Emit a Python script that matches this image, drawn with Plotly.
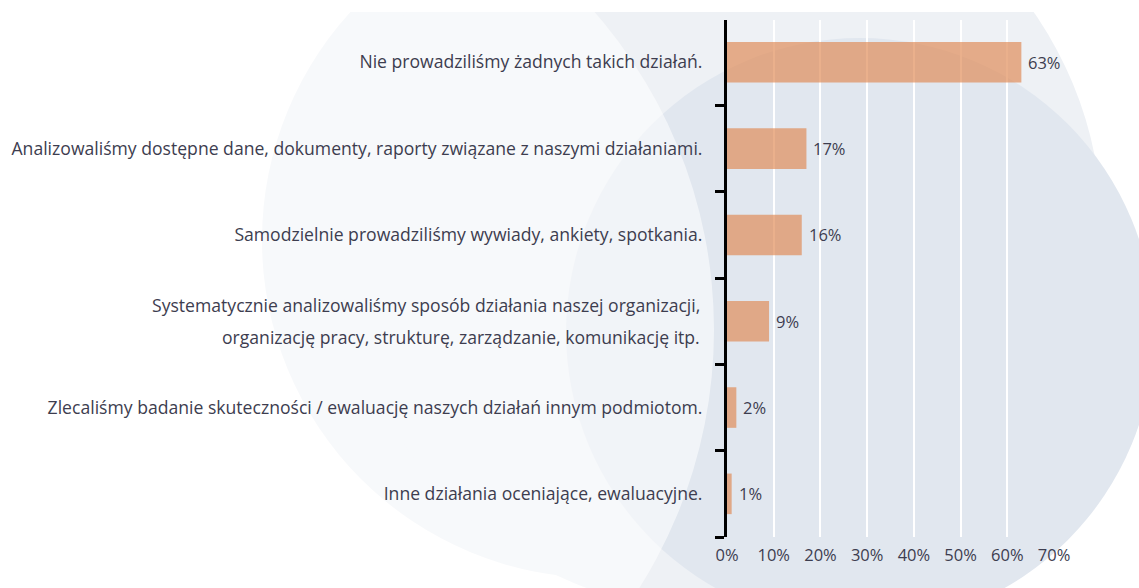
import plotly.graph_objects as go

# Survey answers (top to bottom) and share of respondents, in percent
categories = [
    "Nie prowadziliśmy żadnych takich działań.",
    "Analizowaliśmy dostępne dane, dokumenty, raporty związane z naszymi działaniami.",
    "Samodzielnie prowadziliśmy wywiady, ankiety, spotkania.",
    "Systematycznie analizowaliśmy sposób działania naszej organizacji, organizację pracy, strukturę, zarządzanie, komunikację itp.",
    "Zlecaliśmy badanie skuteczności / ewaluację naszych działań innym podmiotom.",
    "Inne działania oceniające, ewaluacyjne.",
]
values = [63, 17, 16, 9, 2, 1]
x_ticks = [0, 10, 20, 30, 40, 50, 60, 70]
x_tick_labels = ["0%", "10%", "20%", "30%", "40%", "50%", "60%", "70%"]

# Label lines for each category (the long answer is split over two lines)
label_lines = [
    ["Nie prowadziliśmy żadnych takich działań."],
    ["Analizowaliśmy dostępne dane, dokumenty, raporty związane z naszymi działaniami."],
    ["Samodzielnie prowadziliśmy wywiady, ankiety, spotkania."],
    ["Systematycznie analizowaliśmy sposób działania naszej organizacji,",
     "organizację pracy, strukturę, zarządzanie, komunikację itp."],
    ["Zlecaliśmy badanie skuteczności / ewaluację naszych działań innym podmiotom."],
    ["Inne działania oceniające, ewaluacyjne."],
]

W, H = 1139, 588
ML, MR, MT, MB = 727, 84, 20, 51
PW, PH = W - ML - MR, H - MT - MB

FONT = "Open Sans"
TEXT_COLOR = "#3d3d4f"
LABEL_SIZE = 17.6
VALUE_SIZE = 16.5
LINE_GAP = 16
PALE = "#eef1f5"


def px_x(px):
    return (px - ML) / PW


def px_y(py):
    return (H - MB - py) / PH


def disc(cx, cy, r, color):
    return dict(type="circle", xref="paper", yref="paper", layer="below",
                x0=px_x(cx - r), x1=px_x(cx + r),
                y0=px_y(cy + r), y1=px_y(cy - r),
                fillcolor=color, line=dict(width=0))


# decorative backdrop: pale blob (two overlapping discs), blue-grey disc,
# translucent white veil on the left, white strip along the top edge
shapes = [
    disc(600, 240, 338, PALE),
    disc(720, 230, 382, PALE),
    disc(860, 332, 294, "#e1e7ef"),
    disc(231, 330, 483, "rgba(255,255,255,0.55)"),
    dict(type="rect", xref="paper", yref="paper", layer="below",
         x0=px_x(-5), x1=px_x(W + 5), y0=px_y(12), y1=px_y(-5),
         fillcolor="white", line=dict(width=0)),
]

fig = go.Figure()
fig.add_trace(go.Bar(
    x=values, y=categories, orientation="h",
    marker=dict(color="rgba(222,133,78,0.65)", line=dict(width=0)),
    width=0.47, hoverinfo="x+y",
))

tick_text = [lines[0] if len(lines) == 1 else "" for lines in label_lines]

annotations = []
# category labels that need more than one line
for cat, lines in zip(categories, label_lines):
    if len(lines) < 2:
        continue
    n = len(lines)
    for i, line in enumerate(lines):
        annotations.append(dict(
            text=line, xref="paper", x=0, xanchor="right", xshift=-25,
            yref="y", y=cat, yanchor="middle",
            yshift=(n - 1) / 2 * LINE_GAP * 2 - i * LINE_GAP * 2,
            showarrow=False,
            font=dict(family=FONT, size=LABEL_SIZE, color=TEXT_COLOR),
        ))
# value labels at the end of each bar
for cat, v in zip(categories, values):
    annotations.append(dict(
        text=f"{v}%", xref="x", x=v, xanchor="left", xshift=5,
        yref="y", y=cat, yanchor="middle", showarrow=False,
        font=dict(family=FONT, size=VALUE_SIZE, color=TEXT_COLOR),
    ))

fig.update_layout(
    width=W, height=H,
    margin=dict(l=ML, r=MR, t=MT, b=MB, pad=0, autoexpand=False),
    paper_bgcolor="white", plot_bgcolor="rgba(0,0,0,0)",
    shapes=shapes, annotations=annotations,
    showlegend=False, bargap=0.53,
    xaxis=dict(range=[0, 70.2], tickvals=x_ticks, ticktext=x_tick_labels,
               showgrid=True, gridcolor="white", gridwidth=2,
               zeroline=False, showline=False, ticks="", automargin=False,
               ticklabelstandoff=6,
               tickfont=dict(family=FONT, size=VALUE_SIZE, color=TEXT_COLOR)),
    yaxis=dict(type="category", categoryorder="array", categoryarray=categories,
               range=[5.5, -0.49], tickvals=categories, ticktext=tick_text,
               tickson="boundaries", ticks="outside", ticklen=9, tickwidth=3,
               tickcolor="black", showline=True, linecolor="black", linewidth=3,
               showgrid=False, ticklabelstandoff=18, automargin=False,
               tickfont=dict(family=FONT, size=LABEL_SIZE, color=TEXT_COLOR)),
)

fig.write_html("out.html")
